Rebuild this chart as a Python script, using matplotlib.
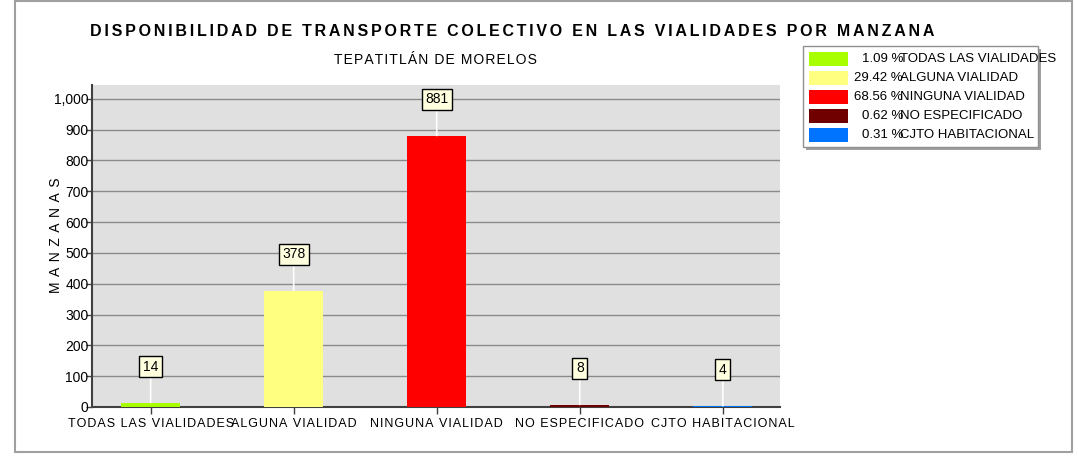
import matplotlib
matplotlib.use("Agg")
import matplotlib.pyplot as plt
from matplotlib.patches import Rectangle

# ---- data ----
categories = ["TODAS LAS VIALIDADES", "ALGUNA VIALIDAD", "NINGUNA VIALIDAD",
              "NO ESPECIFICADO", "CJTO HABITACIONAL"]
values = [14, 378, 881, 8, 4]
percents = ["1.09", "29.42", "68.56", "0.62", "0.31"]
colors = ["#a8ff00", "#ffff80", "#ff0000", "#700000", "#0073ff"]
yticks = [0, 100, 200, 300, 400, 500, 600, 700, 800, 900, 1000]
title = "DISPONIBILIDAD DE TRANSPORTE COLECTIVO EN LAS VIALIDADES POR MANZANA"
subtitle = "TEPATITLÁN DE MORELOS"
ylabel = "MANZANAS"

W, H = 1078, 458
FAM = ["Liberation Sans", "DejaVu Sans"]
plt.rcParams["font.family"] = FAM

def fx(x):
    return x / W

def fy(y):
    return 1 - y / H

def spaced(s, sep="\u200a"):
    return sep.join(s)

fig = plt.figure(figsize=(W / 100, H / 100), dpi=100)
fig.patch.set_facecolor("white")

# outer frame
fig.patches.append(Rectangle((fx(15), fy(452)), fx(1072) - fx(15), fy(1) - fy(452),
                             transform=fig.transFigure, fill=False,
                             edgecolor="#a0a0a0", lw=1.5))

ax = fig.add_axes([fx(92), fy(407), fx(780) - fx(92), fy(85) - fy(407)])
ax.set_facecolor("#e0e0e0")
x = list(range(len(categories)))
ax.bar(x, values, width=0.41, color=colors, zorder=3)
ax.set_xlim(-0.41, 4.40)
ax.set_ylim(0, 1045)
ax.set_yticks(yticks)
ax.set_yticklabels([f"{v:,}" for v in yticks], fontsize=10)
ax.set_xticks(x)
ax.set_xticklabels([spaced(c) for c in categories], fontsize=9)
ax.yaxis.grid(True, color="#8a8a8a", lw=1, zorder=1)
ax.set_axisbelow(True)
for s in ["top", "right"]:
    ax.spines[s].set_visible(False)
for s in ["left", "bottom"]:
    ax.spines[s].set_color("#404040")
    ax.spines[s].set_linewidth(1.5)
ax.tick_params(axis="y", direction="out", length=4, width=1, color="#404040", pad=-1.5)
ax.tick_params(axis="x", direction="out", length=5, width=1, color="#404040", pad=3)

for xi, v in zip(x, values):
    ax.annotate(str(v), xy=(xi, v), xytext=(0, 26), textcoords="offset points",
                ha="center", va="center", fontsize=10,
                bbox=dict(boxstyle="square,pad=0.25", fc="#ffffe0", ec="black", lw=1),
                arrowprops=dict(arrowstyle="-", color="white", lw=1.2,
                                shrinkA=0, shrinkB=0),
                zorder=4)

fig.text(fx(56), fy(235), spaced(ylabel, "\u2009\u2009"), rotation=90,
         ha="center", va="center", fontsize=10)

fig.text(fx(90), fy(32), spaced(title, "\u200a\u200a"), fontsize=11.5, fontweight="bold",
         ha="left", va="center")
fig.text(fx(435), fy(60), spaced(subtitle), fontsize=10, ha="center", va="center")

# legend
lx0, ly0, lx1, ly1 = 803, 46, 1038, 147
fig.patches.append(Rectangle((fx(lx0 + 3), fy(ly1 + 3)), fx(lx1) - fx(lx0), fy(ly0) - fy(ly1),
                             transform=fig.transFigure, fc="#a0a0a0", ec="none"))
fig.patches.append(Rectangle((fx(lx0), fy(ly1)), fx(lx1) - fx(lx0), fy(ly0) - fy(ly1),
                             transform=fig.transFigure, fc="white", ec="#909090", lw=1))
rows = [59, 78, 97, 116, 135]
for r, c, p, name in zip(rows, colors, percents, categories):
    fig.patches.append(Rectangle((fx(809), fy(r + 7)), fx(848) - fx(809), fy(r - 7) - fy(r + 7),
                                 transform=fig.transFigure, fc=c, ec="none"))
    fig.text(fx(903), fy(r), p + " %", fontsize=9.5, ha="right", va="center")
    fig.text(fx(900), fy(r), name, fontsize=9.5, ha="left", va="center")

fig.savefig("out.png", dpi=100)
